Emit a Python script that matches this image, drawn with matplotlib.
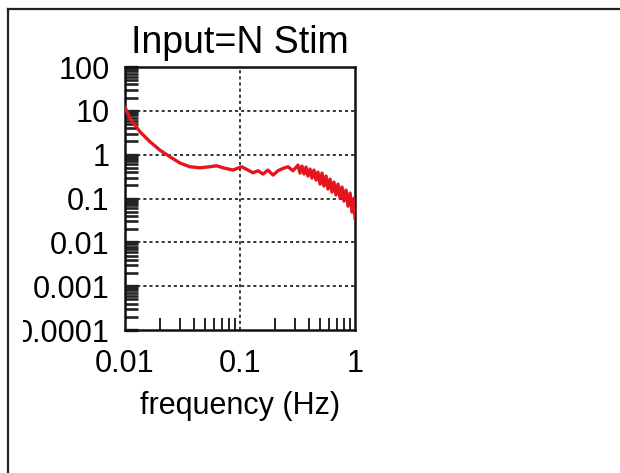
import numpy as np
import matplotlib
matplotlib.use("Agg")
import matplotlib.pyplot as plt
from matplotlib.lines import Line2D
from matplotlib.transforms import Bbox, TransformedBbox
from matplotlib.ticker import LogLocator, NullFormatter

plt.rcParams["font.family"] = ["Liberation Sans", "DejaVu Sans"]

# ── data ─────────────────────────────────────────────────────────────────────
freq = [0.0100, 0.0110, 0.0135, 0.0165, 0.0201, 0.0246, 0.0301, 0.0367, 0.0449,
        0.0548, 0.0626, 0.0711, 0.0869, 0.0961, 0.1035, 0.1174, 0.1297, 0.1434,
        0.1585, 0.1751, 0.1936, 0.2140, 0.2365, 0.2614, 0.2890,
        0.3193, 0.3327, 0.3459, 0.3604, 0.3750, 0.3899, 0.4063, 0.4227, 0.4396,
        0.4581, 0.4764, 0.4966, 0.5164, 0.5370, 0.5598, 0.5821, 0.6067, 0.6310,
        0.6561, 0.6839, 0.7112, 0.7413, 0.7709, 0.8017, 0.8356, 0.8690, 0.9057,
        0.9419, 0.9795, 1.0000]
power = [12.2, 6.85, 3.33, 1.97, 1.27, 0.895, 0.643, 0.530, 0.502,
         0.530, 0.558, 0.502, 0.445, 0.494, 0.530, 0.445, 0.386, 0.429,
         0.361, 0.445, 0.342, 0.429, 0.486, 0.530, 0.429,
         0.579, 0.380, 0.549, 0.361, 0.521, 0.325, 0.469, 0.292, 0.445,
         0.263, 0.401, 0.213, 0.380, 0.192, 0.325, 0.164, 0.277, 0.140,
         0.237, 0.120, 0.213, 0.102, 0.182, 0.0873, 0.156, 0.0670, 0.133,
         0.0489, 0.102, 0.0357]

title = "Input=N Stim"
xlabel = "frequency (Hz)"
xticks = [0.01, 0.1, 1]
xticklabels = ["0.01", "0.1", "1"]
yticks = [1e-4, 1e-3, 1e-2, 1e-1, 1, 10, 100]
yticklabels = ["0.0001", "0.001", "0.01", "0.1", "1", "10", "100"]

# ── figure ───────────────────────────────────────────────────────────────────
W, H = 620, 473
fig = plt.figure(figsize=(W / 100, H / 100), dpi=100)
fig.patch.set_facecolor("white")

# outer frame (only top and left edges visible on the scan)
fig.add_artist(Line2D([8 / W, 1], [1 - 9 / H, 1 - 9 / H], color="#222222", lw=1.6))
fig.add_artist(Line2D([8 / W, 8 / W], [0, 1 - 9 / H], color="#222222", lw=1.6))

ax = fig.add_axes([125 / W, 1 - 330 / H, 230 / W, 263 / H])
ax.plot(freq, power, color="#e3161f", lw=2.4, solid_joinstyle="round", zorder=3)

ax.set_xscale("log")
ax.set_yscale("log")
ax.set_xlim(0.01, 1)
ax.set_ylim(1e-4, 100)

ax.set_xticks(xticks)
ax.set_xticklabels(xticklabels)
ax.set_yticks(yticks)
ax.set_yticklabels(yticklabels)
ax.xaxis.set_minor_locator(LogLocator(base=10, subs=np.arange(2, 10), numticks=20))
ax.yaxis.set_minor_locator(LogLocator(base=10, subs=np.arange(2, 10), numticks=20))
ax.xaxis.set_minor_formatter(NullFormatter())
ax.yaxis.set_minor_formatter(NullFormatter())

ax.tick_params(axis="x", which="major", direction="in", length=0, pad=14,
               labelsize=22)
ax.tick_params(axis="x", which="minor", direction="in", length=9, width=1.3,
               color="#111111")
ax.tick_params(axis="y", which="major", direction="in", length=9, width=2.4,
               pad=11, labelsize=22, color="#222222")
ax.tick_params(axis="y", which="minor", direction="in", length=9, width=1.9,
               color="#222222")

# dotted grid at the inner decades
for y in [1e-3, 1e-2, 1e-1, 1, 10]:
    ax.axhline(y, color="black", lw=1.1, ls=(0, (2, 2)), zorder=1)
ax.axvline(0.1, color="black", lw=1.1, ls=(0, (2, 2)), zorder=1)

for s in ax.spines.values():
    s.set_linewidth(1.8)
    s.set_color("#111111")

ax.set_title(title, fontsize=27, pad=10)
ax.set_xlabel(xlabel, fontsize=22, labelpad=8)

# the lowest y label is cut by the scan's left edge
fig.canvas.draw()
clip = TransformedBbox(Bbox([[23 / W, 0], [1, 1]]), fig.transFigure)
for lab in ax.get_yticklabels():
    lab.set_clip_on(True)
    lab.set_clip_box(clip)

fig.savefig("out.png", dpi=100, facecolor="white")
